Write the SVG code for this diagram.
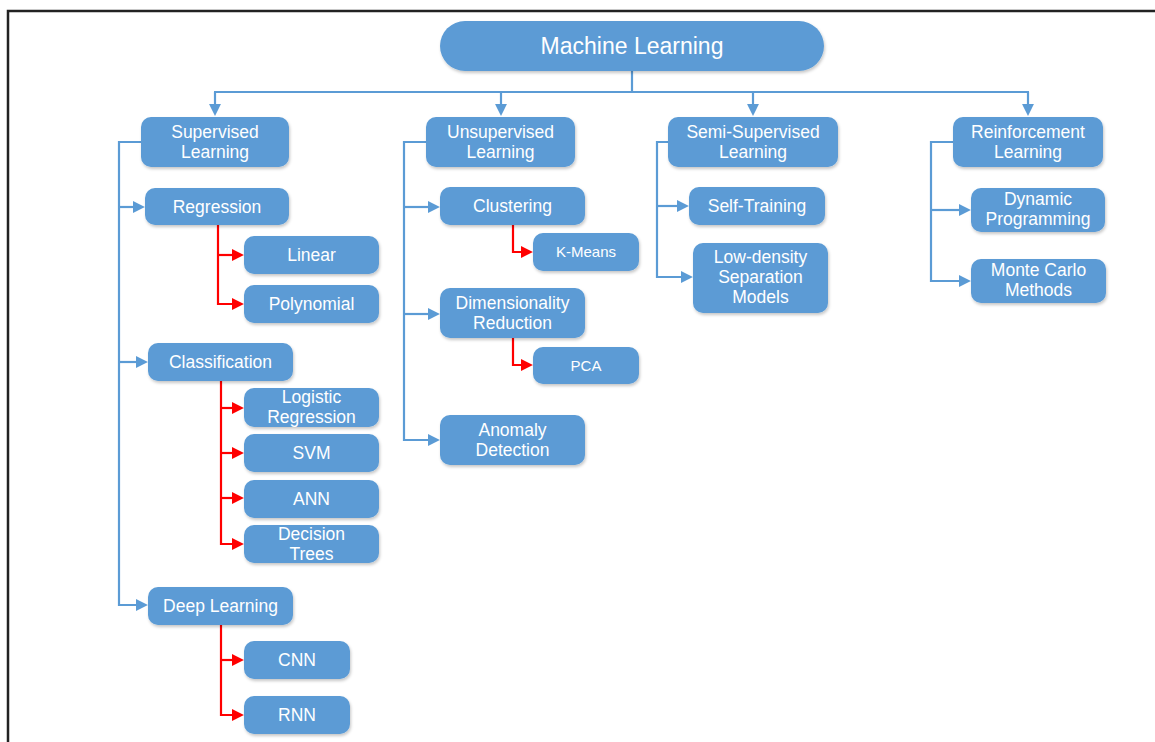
<svg xmlns="http://www.w3.org/2000/svg" width="1155" height="742" viewBox="0 0 1155 742">
  <style>
    .box { fill: #5b9bd5; filter: url(#shadow); }
    .lbl { fill: #ffffff; font-family: "Liberation Sans", Arial, sans-serif; font-size: 17.5px; text-anchor: middle; }
    .sm { font-size: 15px; }
    .title { font-size: 23px; }
    .blue { fill: none; stroke: #5b9bd5; stroke-width: 2.2; }
    .red { fill: none; stroke: #ff0000; stroke-width: 2.2; }
  </style>
  <defs>
    <filter id="shadow" x="-10%" y="-20%" width="120%" height="150%">
      <feDropShadow dx="1" dy="2" stdDeviation="1.8" flood-color="#000" flood-opacity="0.22"/>
    </filter>
    <marker id="ab" viewBox="0 0 10 10" refX="3.4" refY="5" markerWidth="12" markerHeight="12" markerUnits="userSpaceOnUse" orient="auto">
      <path d="M0,0 L10,5 L0,10 z" fill="#5b9bd5"/>
    </marker>
    <marker id="ar" viewBox="0 0 10 10" refX="3.4" refY="5" markerWidth="12" markerHeight="12" markerUnits="userSpaceOnUse" orient="auto">
      <path d="M0,0 L10,5 L0,10 z" fill="#ff0000"/>
    </marker>
  </defs>

  <rect width="1155" height="742" fill="#ffffff"/>
  <rect x="8" y="11" width="1160" height="740" fill="none" stroke="#222" stroke-width="2.5"/>

  <g id="connectors">
    <!-- top level -->
    <path class="blue" d="M632,71 V92 M214,92 H1029"/>
    <path class="blue" marker-end="url(#ab)" d="M215,92 V108"/>
    <path class="blue" marker-end="url(#ab)" d="M501,92 V108"/>
    <path class="blue" marker-end="url(#ab)" d="M753,92 V108"/>
    <path class="blue" marker-end="url(#ab)" d="M1028,92 V108"/>
    <!-- supervised -->
    <path class="blue" marker-end="url(#ab)" d="M141,142 H119 V605 H140"/>
    <path class="blue" marker-end="url(#ab)" d="M119,207 H137"/>
    <path class="blue" marker-end="url(#ab)" d="M119,362 H140"/>
    <!-- unsupervised -->
    <path class="blue" marker-end="url(#ab)" d="M426,142 H404 V440 H432"/>
    <path class="blue" marker-end="url(#ab)" d="M404,207 H432"/>
    <path class="blue" marker-end="url(#ab)" d="M404,314 H432"/>
    <!-- semi-supervised -->
    <path class="blue" marker-end="url(#ab)" d="M668,142 H657 V277 H685"/>
    <path class="blue" marker-end="url(#ab)" d="M657,206 H681"/>
    <!-- reinforcement -->
    <path class="blue" marker-end="url(#ab)" d="M953,142 H931 V281 H963"/>
    <path class="blue" marker-end="url(#ab)" d="M931,210 H963"/>
    <!-- sub-branches -->
    <path class="red" marker-end="url(#ar)" d="M218,225 V304 H236"/>
    <path class="red" marker-end="url(#ar)" d="M218,255 H236"/>
    <path class="red" marker-end="url(#ar)" d="M221,381 V544 H236"/>
    <path class="red" marker-end="url(#ar)" d="M221,408 H236"/>
    <path class="red" marker-end="url(#ar)" d="M221,453 H236"/>
    <path class="red" marker-end="url(#ar)" d="M221,498 H236"/>
    <path class="red" marker-end="url(#ar)" d="M221,625 V715 H236"/>
    <path class="red" marker-end="url(#ar)" d="M221,660 H236"/>
    <path class="red" marker-end="url(#ar)" d="M513,225 V252 H525"/>
    <path class="red" marker-end="url(#ar)" d="M513,338 V365 H525"/>
  </g>

  <g id="machine-learning">
    <rect class="box" x="440" y="21" width="384" height="50" rx="25"/>
    <text class="lbl title" x="632" y="54">Machine Learning</text>
  </g>

  <g id="supervised">
    <rect class="box" x="141" y="117" width="148" height="50" rx="10"/>
    <text class="lbl" x="215" y="138">Supervised</text>
    <text class="lbl" x="215" y="158">Learning</text>
  </g>
  <g id="unsupervised">
    <rect class="box" x="426" y="117" width="149" height="50" rx="10"/>
    <text class="lbl" x="500.5" y="138">Unsupervised</text>
    <text class="lbl" x="500.5" y="158">Learning</text>
  </g>
  <g id="semi-supervised">
    <rect class="box" x="668" y="117" width="170" height="50" rx="10"/>
    <text class="lbl" x="753" y="138">Semi-Supervised</text>
    <text class="lbl" x="753" y="158">Learning</text>
  </g>
  <g id="reinforcement">
    <rect class="box" x="953" y="117" width="150" height="50" rx="10"/>
    <text class="lbl" x="1028" y="138">Reinforcement</text>
    <text class="lbl" x="1028" y="158">Learning</text>
  </g>

  <g id="regression">
    <rect class="box" x="145" y="188" width="144" height="37" rx="10"/>
    <text class="lbl" x="217" y="213">Regression</text>
  </g>
  <g id="linear">
    <rect class="box" x="244" y="236" width="135" height="38" rx="10"/>
    <text class="lbl" x="311.5" y="261">Linear</text>
  </g>
  <g id="polynomial">
    <rect class="box" x="244" y="285" width="135" height="38" rx="10"/>
    <text class="lbl" x="311.5" y="310">Polynomial</text>
  </g>
  <g id="classification">
    <rect class="box" x="148" y="343" width="145" height="38" rx="10"/>
    <text class="lbl" x="220.5" y="368">Classification</text>
  </g>
  <g id="logistic-regression">
    <rect class="box" x="244" y="388" width="135" height="39" rx="10"/>
    <text class="lbl" x="311.5" y="403">Logistic</text>
    <text class="lbl" x="311.5" y="423">Regression</text>
  </g>
  <g id="svm">
    <rect class="box" x="244" y="434" width="135" height="38" rx="10"/>
    <text class="lbl" x="311.5" y="459">SVM</text>
  </g>
  <g id="ann">
    <rect class="box" x="244" y="480" width="135" height="38" rx="10"/>
    <text class="lbl" x="311.5" y="505">ANN</text>
  </g>
  <g id="decision-trees">
    <rect class="box" x="244" y="525" width="135" height="38" rx="10"/>
    <text class="lbl" x="311.5" y="540">Decision</text>
    <text class="lbl" x="311.5" y="560">Trees</text>
  </g>
  <g id="deep-learning">
    <rect class="box" x="148" y="587" width="145" height="38" rx="10"/>
    <text class="lbl" x="220.5" y="612">Deep Learning</text>
  </g>
  <g id="cnn">
    <rect class="box" x="244" y="641" width="106" height="38" rx="10"/>
    <text class="lbl" x="297" y="666">CNN</text>
  </g>
  <g id="rnn">
    <rect class="box" x="244" y="696" width="106" height="38" rx="10"/>
    <text class="lbl" x="297" y="721">RNN</text>
  </g>

  <g id="clustering">
    <rect class="box" x="440" y="187" width="145" height="38" rx="10"/>
    <text class="lbl" x="512.5" y="212">Clustering</text>
  </g>
  <g id="k-means">
    <rect class="box" x="533" y="233" width="106" height="38" rx="10"/>
    <text class="lbl sm" x="586" y="257">K-Means</text>
  </g>
  <g id="dimensionality-reduction">
    <rect class="box" x="440" y="288" width="145" height="50" rx="10"/>
    <text class="lbl" x="512.5" y="309">Dimensionality</text>
    <text class="lbl" x="512.5" y="329">Reduction</text>
  </g>
  <g id="pca">
    <rect class="box" x="533" y="347" width="106" height="37" rx="10"/>
    <text class="lbl sm" x="586" y="371">PCA</text>
  </g>
  <g id="anomaly-detection">
    <rect class="box" x="440" y="415" width="145" height="50" rx="10"/>
    <text class="lbl" x="512.5" y="436">Anomaly</text>
    <text class="lbl" x="512.5" y="456">Detection</text>
  </g>

  <g id="self-training">
    <rect class="box" x="689" y="187" width="136" height="38" rx="10"/>
    <text class="lbl" x="757" y="212">Self-Training</text>
  </g>
  <g id="low-density">
    <rect class="box" x="693" y="243" width="135" height="70" rx="10"/>
    <text class="lbl" x="760.5" y="263">Low-density</text>
    <text class="lbl" x="760.5" y="283">Separation</text>
    <text class="lbl" x="760.5" y="303">Models</text>
  </g>

  <g id="dynamic-programming">
    <rect class="box" x="971" y="188" width="134" height="44" rx="10"/>
    <text class="lbl" x="1038" y="205">Dynamic</text>
    <text class="lbl" x="1038" y="225">Programming</text>
  </g>
  <g id="monte-carlo">
    <rect class="box" x="971" y="259" width="135" height="44" rx="10"/>
    <text class="lbl" x="1038.5" y="276">Monte Carlo</text>
    <text class="lbl" x="1038.5" y="296">Methods</text>
  </g>
</svg>
